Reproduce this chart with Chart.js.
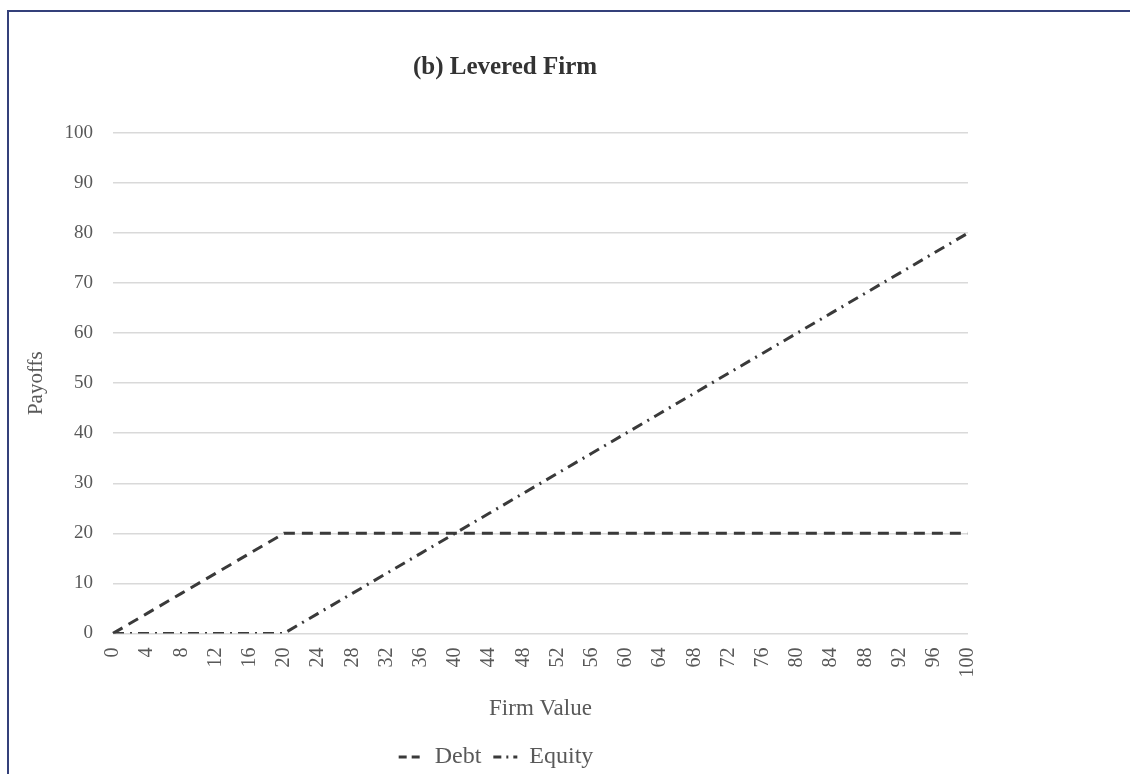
<!DOCTYPE html>
<html>
<head>
<meta charset="utf-8">
<script src="https://cdn.jsdelivr.net/npm/chart.js@4"></script>
<style>
  body { margin: 0; background: #fff; }
  #frame {
    position: absolute; left: 7px; top: 10px; width: 1123px; height: 764px;
    border-top: 2px solid #34407a; border-left: 2px solid #34407a;
  }
  #wrap { position: absolute; left: 0; top: 0; width: 1000px; height: 762px; }
</style>
</head>
<body>
<div id="frame"><div id="wrap"><canvas id="leveredChart"></canvas></div></div>
<script>
// firm value categories and payoffs
const firmValues = [0, 4, 8, 12, 16, 20, 24, 28, 32, 36, 40, 44, 48, 52, 56, 60, 64, 68, 72, 76, 80, 84, 88, 92, 96, 100];
const debtPayoff = [0, 4, 8, 12, 16, 20, 20, 20, 20, 20, 20, 20, 20, 20, 20, 20, 20, 20, 20, 20, 20, 20, 20, 20, 20, 20];
const equityPayoff = [0, 0, 0, 0, 0, 0, 4, 8, 12, 16, 20, 24, 28, 32, 36, 40, 44, 48, 52, 56, 60, 64, 68, 72, 76, 80];

const serif = "'Liberation Serif', 'Times New Roman', serif";
const textGrey = '#595959';
const lineGrey = '#3a3a3a';

const data = {
    labels: firmValues,
    datasets: [{
        label: 'Debt',
        data: debtPayoff,
        borderColor: lineGrey,
        backgroundColor: 'transparent',
        borderWidth: 3,
        borderDash: [11, 7],
        pointRadius: 0,
        tension: 0
    }, {
        label: 'Equity',
        data: equityPayoff,
        borderColor: lineGrey,
        backgroundColor: 'transparent',
        borderWidth: 3,
        borderDash: [11, 6, 2, 6],
        pointRadius: 0,
        tension: 0
    }]
}

// legend items drawn as short dashed lines like the series
function legendLabels(chart) {
    const items = Chart.defaults.plugins.legend.labels.generateLabels(chart);
    return items.map((item, i) => ({
        ...item,
        pointStyle: 'line',
        lineWidth: 3,
        strokeStyle: lineGrey,
        fillStyle: lineGrey,
        lineDash: i == 0 ? [8, 5] : [8, 5, 2, 5]
    }));
}

// the legend sits a little left of the title in the original
const nudgeLegend = {
    id: 'nudgeLegend',
    afterLayout(chart) {
        chart.legend.left -= 9;
        chart.legend.right -= 9;
    }
}

const options = {
    responsive: true,
    maintainAspectRatio: false,
    animation: false,
    layout: {
        padding: { top: 31, left: 11, right: 19, bottom: -5 }
    },
    plugins: {
        title: {
            display: true,
            text: '(b) Levered Firm',
            color: '#333333',
            font: { size: 25, weight: 'bold', family: serif },
            padding: { top: 10, bottom: 50 }
        },
        legend: {
            position: 'bottom',
            labels: {
                usePointStyle: true,
                pointStyleWidth: 24,
                generateLabels: legendLabels,
                color: textGrey,
                font: { size: 24, family: serif },
                padding: 12
            }
        },
        tooltip: { enabled: false }
    },
    scales: {
        x: {
            offset: false,
            grid: { display: false },
            border: { display: false },
            ticks: {
                color: textGrey,
                font: { size: 20, family: serif },
                minRotation: 90,
                maxRotation: 90,
                autoSkip: false,
                padding: 6
            },
            title: {
                display: true,
                text: 'Firm Value',
                color: textGrey,
                font: { size: 23, family: serif },
                padding: { top: 12, bottom: 10 }
            }
        },
        y: {
            min: 0,
            max: 100,
            ticks: {
                stepSize: 10,
                color: textGrey,
                font: { size: 19, family: serif },
                padding: 20
            },
            grid: { color: '#d9d9d9', lineWidth: 1.5, drawTicks: false },
            border: { display: false },
            title: {
                display: true,
                text: 'Payoffs',
                color: textGrey,
                font: { size: 21, family: serif },
                padding: { top: 4, bottom: 4 }
            },
            afterFit: scale => { scale.width = 93; }
        },
        // empty right-hand spacer so the plot ends where the reference does
        spacer: {
            position: 'right',
            display: true,
            grid: { display: false },
            border: { display: false },
            ticks: { display: false },
            afterFit: scale => { scale.width = 22; }
        }
    }
}

new Chart('leveredChart', { type: 'line', data, options, plugins: [nudgeLegend] });
</script>
</body>
</html>
